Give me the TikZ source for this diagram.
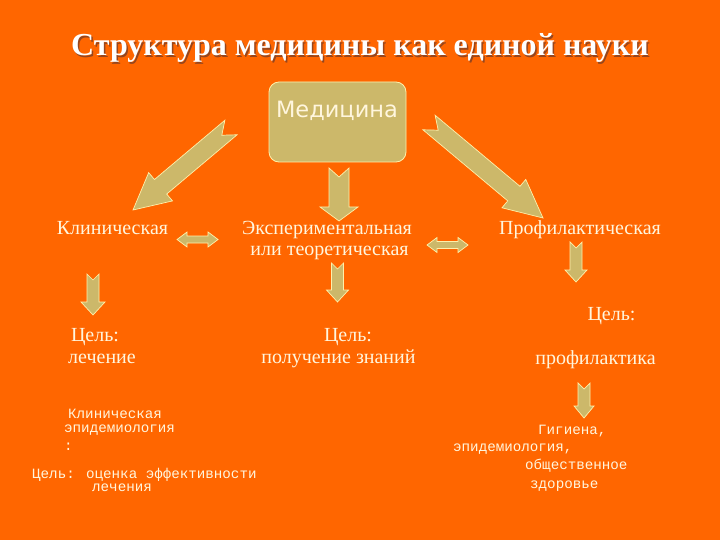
\documentclass[tikz,border=0pt]{standalone}
\usepackage{fontspec}
\setmainfont{Liberation Serif}
\newfontfamily\sansf{DejaVu Sans}
\newfontfamily\monof{Liberation Mono}
\usetikzlibrary{calc}
\definecolor{bgorange}{RGB}{255,102,0}
\definecolor{tanfill}{RGB}{204,184,106}
\definecolor{tanline}{RGB}{255,240,170}
\definecolor{creamtext}{RGB}{255,246,222}
\definecolor{titleshadow}{RGB}{150,70,30}
\tikzset{
  barrow/.style={fill=tanfill, draw=tanline, line width=0.7pt, line join=miter},
  medbox/.style={draw=tanline, fill=tanfill, line width=0.8pt, rounded corners=10pt, minimum width=137pt, minimum height=80pt, inner sep=0pt},
  sertext/.style={text=creamtext, inner sep=0pt, anchor=base, font=\fontsize{20}{22}\selectfont},
  monotext/.style={text=creamtext, inner sep=0pt, anchor=base west, font=\monof\fontsize{14.2}{16}\selectfont},
}
% single block arrow with notched tail: from, to, shaft half-width, head half-width, head length, notch depth
\newcommand\blockarrow[6]{%
  \path[barrow] let \p1=(#1), \p2=(#2), \n1={atan2(\y2-\y1,\x2-\x1)}, \n2={veclen(\x2-\x1,\y2-\y1)} in
    ($(\p1)+(\n1+90:#3)$) -- ($(\p1)+(\n1:\n2-#5)+(\n1+90:#3)$) -- ($(\p1)+(\n1:\n2-#5)+(\n1+90:#4)$)
    -- (\p2) -- ($(\p1)+(\n1:\n2-#5)+(\n1-90:#4)$) -- ($(\p1)+(\n1:\n2-#5)+(\n1-90:#3)$)
    -- ($(\p1)+(\n1-90:#3)$) -- ($(\p1)+(\n1:#6)$) -- cycle;}
% double block arrow: from, to, shaft half-width, head half-width, head length
\newcommand\doublearrow[5]{%
  \path[barrow] let \p1=(#1), \p2=(#2), \n1={atan2(\y2-\y1,\x2-\x1)}, \n2={veclen(\x2-\x1,\y2-\y1)} in
    (\p1) -- ($(\p1)+(\n1:#5)+(\n1+90:#4)$) -- ($(\p1)+(\n1:#5)+(\n1+90:#3)$)
    -- ($(\p1)+(\n1:\n2-#5)+(\n1+90:#3)$) -- ($(\p1)+(\n1:\n2-#5)+(\n1+90:#4)$)
    -- (\p2) -- ($(\p1)+(\n1:\n2-#5)+(\n1-90:#4)$) -- ($(\p1)+(\n1:\n2-#5)+(\n1-90:#3)$)
    -- ($(\p1)+(\n1:#5)+(\n1-90:#3)$) -- ($(\p1)+(\n1:#5)+(\n1-90:#4)$) -- cycle;}
\begin{document}
\begin{tikzpicture}[x=1pt,y=-1pt]
\fill[bgorange] (0,0) rectangle (720,540);
\useasboundingbox (0,0) rectangle (720,540);

% title
\node[text=titleshadow, inner sep=0pt, anchor=base, font=\bfseries\fontsize{32}{34}\selectfont] at (361.5,57.5) {Структура медицины как единой науки};
\node[text=white, inner sep=0pt, anchor=base, font=\bfseries\fontsize{32}{34}\selectfont] (title) at (360,56) {Структура медицины как единой науки};

% Medicine box
\node[medbox] (med) at (337.5,122) {};
\node[text=creamtext, inner sep=0pt, anchor=base, font=\sansf\fontsize{22.5}{24}\selectfont] (medt) at (337,118) {Медицина};

% branch texts
\node[sertext] (klin) at (112.5,234) {Клиническая};
\node[sertext] (exp1) at (327,234) {Экспериментальная};
\node[sertext] (exp2) at (329.5,255) {или теоретическая};
\node[sertext] (prof) at (580,234) {Профилактическая};

\node[sertext] (g1a) at (95,341) {Цель:};
\node[sertext] (g1b) at (102,363) {лечение};
\node[sertext] (g2a) at (348,341) {Цель:};
\node[sertext] (g2b) at (338.5,363) {получение знаний};
\node[sertext] (g3a) at (611.5,320) {Цель:};
\node[sertext] (g3b) at (595.5,364) {профилактика};

% lower blocks
\node[monotext] (ce1) at (68,418) {Клиническая};
\node[monotext] (ce2) at (64,432) {эпидемиология};
\node[monotext] (ce3) at (64,450) {:};
\node[monotext] (ce4) at (32,478) {Цель: оценка эффективности};
\node[monotext] (ce5) at (92,491) {лечения};

\node[monotext] (h1) at (538,434) {Гигиена,};
\node[monotext] (h2) at (453,451) {эпидемиология,};
\node[monotext] (h3) at (525,469) {общественное};
\node[monotext] (h4) at (530,488) {здоровье};

% arrow end points
\coordinate (aLs) at (231,127.5);  \coordinate (aLe) at (133,210);
\coordinate (aMs) at (339,168);    \coordinate (aMe) at (339,221);
\coordinate (aRs) at (429,122.5);  \coordinate (aRe) at (543,218);
\coordinate (d1s) at (93,274);     \coordinate (d1e) at (93,315);
\coordinate (d2s) at (337.5,263);  \coordinate (d2e) at (337.5,302);
\coordinate (d3s) at (576,242);    \coordinate (d3e) at (576,282);
\coordinate (d4s) at (584,383);    \coordinate (d4e) at (584,418);
\coordinate (x1s) at (177,239.5);  \coordinate (x1e) at (218,239.5);
\coordinate (x2s) at (427,245);    \coordinate (x2e) at (468,245);

\blockarrow{aLs}{aLe}{9.5pt}{18.5pt}{36pt}{12pt}
\blockarrow{aMs}{aMe}{10pt}{19pt}{14pt}{9pt}
\blockarrow{aRs}{aRe}{9.5pt}{18.5pt}{38pt}{12pt}
\blockarrow{d1s}{d1e}{6pt}{12pt}{13pt}{6pt}
\blockarrow{d2s}{d2e}{6pt}{11pt}{12pt}{6pt}
\blockarrow{d3s}{d3e}{6pt}{11pt}{12pt}{6pt}
\blockarrow{d4s}{d4e}{6pt}{10pt}{12pt}{6pt}
\doublearrow{x1s}{x1e}{3.5pt}{7.5pt}{10pt}
\doublearrow{x2s}{x2e}{3.5pt}{7.5pt}{10pt}
\end{tikzpicture}
\end{document}
